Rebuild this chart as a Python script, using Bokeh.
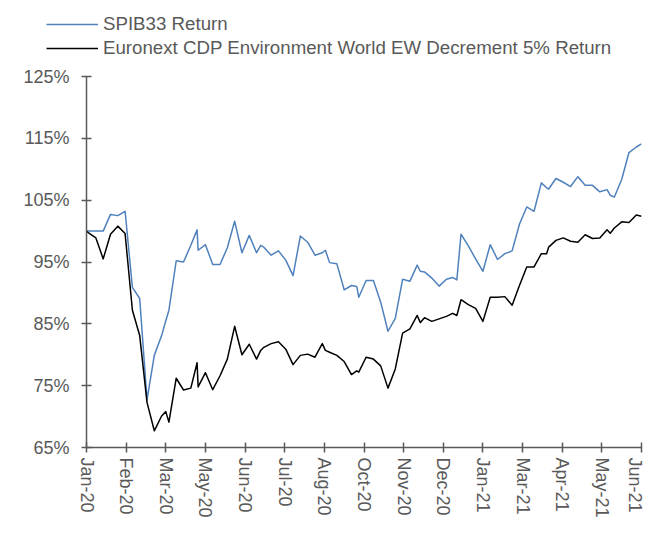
import pandas as pd
from bokeh.plotting import figure
from bokeh.layouts import column
from bokeh.models import (Range1d, FixedTicker, PrintfTickFormatter, Legend,
                          LegendItem, ColumnDataSource, DatetimeTickFormatter)
from bokeh.embed import file_html
from bokeh.resources import INLINE

# ---------------- data ----------------
dates = [
    "2020-01-15", "2020-01-17", "2020-01-24", "2020-01-31", "2020-02-07", "2020-02-14",
    "2020-02-21", "2020-02-28", "2020-03-06", "2020-03-13", "2020-03-20", "2020-03-27",
    "2020-03-31", "2020-04-03", "2020-04-10", "2020-04-17", "2020-04-24", "2020-04-30",
    "2020-05-01", "2020-05-08", "2020-05-15", "2020-05-22", "2020-05-29", "2020-06-05",
    "2020-06-12", "2020-06-19", "2020-06-26", "2020-06-30", "2020-07-03", "2020-07-10",
    "2020-07-17", "2020-07-24", "2020-07-31", "2020-08-07", "2020-08-14", "2020-08-21",
    "2020-08-28", "2020-08-31", "2020-09-04", "2020-09-11", "2020-09-18", "2020-09-25",
    "2020-09-30", "2020-10-02", "2020-10-09", "2020-10-16", "2020-10-23", "2020-10-30",
    "2020-11-06", "2020-11-13", "2020-11-20", "2020-11-27", "2020-11-30", "2020-12-04",
    "2020-12-11", "2020-12-18", "2020-12-25", "2020-12-31", "2021-01-04", "2021-01-08",
    "2021-01-15", "2021-01-22", "2021-01-29", "2021-02-05", "2021-02-12", "2021-02-19",
    "2021-02-26", "2021-03-05", "2021-03-12", "2021-03-19", "2021-03-26", "2021-03-31",
    "2021-04-02", "2021-04-09", "2021-04-16", "2021-04-23", "2021-04-30", "2021-05-07",
    "2021-05-14", "2021-05-21", "2021-05-28", "2021-05-31", "2021-06-04", "2021-06-11",
    "2021-06-18", "2021-06-25", "2021-06-30",
]

spib33_return = [
    100.0, 100.0, 100.0, 100.0, 102.7, 102.5, 103.2, 90.9, 89.1, 72.7,
    79.9, 83.1, 85.5, 87.2, 95.2, 95.0, 97.7, 100.2, 96.9, 97.8,
    94.6, 94.6, 97.3, 101.6, 96.5, 99.3, 96.5, 97.7, 97.4, 96.1,
    96.8, 95.3, 92.8, 99.2, 98.2, 96.1, 96.5, 96.9, 94.9, 94.7,
    90.5, 91.2, 91.05, 89.3, 92.0, 92.0, 88.5, 83.8, 85.9, 92.2,
    91.9, 94.5, 93.5, 93.4, 92.4, 91.1, 92.2, 92.5, 92.1, 99.5,
    97.6, 95.5, 93.5, 97.8, 95.4, 96.35, 96.8, 101.1, 103.9, 103.2,
    107.8, 107.0, 106.8, 108.5, 107.9, 107.2, 108.8, 107.4, 107.4, 106.35,
    106.7, 105.8, 105.5, 108.35, 112.7, 113.6, 114.1,
]

euronext_cdp_return = [
    100.0, 99.7, 98.9, 95.5, 99.5, 100.8, 99.6, 87.2, 83.1, 72.3,
    67.7, 70.1, 70.8, 69.1, 76.2, 74.3, 74.6, 78.7, 74.8, 77.1,
    74.35, 76.6, 79.3, 84.6, 80.0, 81.7, 79.3, 80.7, 81.2, 81.8,
    82.1, 80.9, 78.4, 79.9, 80.1, 79.6, 81.8, 80.7, 80.4, 79.9,
    78.9, 76.8, 77.4, 77.2, 79.6, 79.3, 78.2, 74.6, 77.7, 83.5,
    84.2, 86.35, 85.2, 86.0, 85.4, 85.8, 86.2, 86.7, 86.35, 88.9,
    88.1, 87.5, 85.4, 89.3, 89.3, 89.4, 88.0, 91.2, 94.2, 94.2,
    96.35, 96.35, 97.4, 98.5, 98.9, 98.35, 98.2, 99.4, 98.8, 98.9,
    100.2, 99.65, 100.5, 101.5, 101.4, 102.6, 102.4,
]

series_names = ["SPIB33 Return",
                "Euronext CDP Environment World EW Decrement 5% Return"]
series_colors = ["#4F81BD", "#000000"]

y_ticks = [65, 75, 85, 95, 105, 115, 125]

x_tick_dates = ["2020-01-15", "2020-02-22", "2020-03-31", "2020-05-08", "2020-06-15",
                "2020-07-23", "2020-08-30", "2020-10-07", "2020-11-14", "2020-12-22",
                "2021-01-29", "2021-03-08", "2021-04-15", "2021-05-23", "2021-06-30"]
x_tick_labels = ["Jan-20", "Feb-20", "Mar-20", "May-20", "Jun-20", "Jul-20", "Aug-20",
                 "Oct-20", "Nov-20", "Dec-20", "Jan-21", "Mar-21", "Apr-21", "May-21",
                 "Jun-21"]


def to_ms(s):
    return int((pd.Timestamp(s) - pd.Timestamp("1970-01-01")) // pd.Timedelta("1ms"))


x_ms = [to_ms(d) for d in dates]
tick_ms = [to_ms(d) for d in x_tick_dates]

source = ColumnDataSource(dict(x=x_ms, spib=spib33_return, eur=euronext_cdp_return))

FONT = "Liberation Sans"
TEXT_COLOR = "#595959"
AXIS_COLOR = "#595959"
W = 644

# ---------------- main chart ----------------
p = figure(width=W, height=469, x_axis_type="datetime",
           output_backend="svg", toolbar_location=None,
           min_border_left=86, min_border_right=3,
           min_border_top=16, min_border_bottom=82,
           x_range=Range1d(x_ms[0], x_ms[-1]), y_range=Range1d(65, 125))
p.outline_line_color = None
p.grid.visible = False
p.background_fill_color = "white"
p.border_fill_color = "white"
p.frame_align = False

p.line("x", "spib", source=source, line_color=series_colors[0], line_width=1.5,
       line_join="round")
p.line("x", "eur", source=source, line_color=series_colors[1], line_width=1.5,
       line_join="round")

# y axis
yax = p.yaxis[0]
yax.ticker = FixedTicker(ticks=y_ticks)
yax.formatter = PrintfTickFormatter(format="%d%%")
yax.axis_line_color = AXIS_COLOR
yax.axis_line_width = 1.5
yax.major_tick_line_color = AXIS_COLOR
yax.major_tick_line_width = 1.5
yax.major_tick_in = 5
yax.major_tick_out = 5
yax.minor_tick_line_color = None
yax.major_label_standoff = 12
yax.major_label_text_font = FONT
yax.major_label_text_font_size = "18px"
yax.major_label_text_color = TEXT_COLOR

# x axis
xax = p.xaxis[0]
xax.ticker = FixedTicker(ticks=tick_ms)
xax.formatter = DatetimeTickFormatter(days="%b-%y", months="%b-%y", years="%b-%y",
                                      hours="%b-%y", minutes="%b-%y", seconds="%b-%y",
                                      milliseconds="%b-%y", microseconds="%b-%y",
                                      minsec="%b-%y", hourmin="%b-%y")
xax.major_label_overrides = {t: lab for t, lab in zip(tick_ms, x_tick_labels)}
xax.major_label_orientation = "vertical"
xax.axis_line_color = AXIS_COLOR
xax.axis_line_width = 1.5
xax.major_tick_line_color = AXIS_COLOR
xax.major_tick_line_width = 1.5
xax.major_tick_in = 5
xax.major_tick_out = 5
xax.minor_tick_line_color = None
xax.major_label_standoff = 5
xax.major_label_text_font = FONT
xax.major_label_text_font_size = "18px"
xax.major_label_text_color = TEXT_COLOR

# ---------------- legend strip above the chart ----------------
lg = figure(width=W, height=60, output_backend="svg", toolbar_location=None,
            min_border=0, x_range=Range1d(0, 1), y_range=Range1d(0, 1))
lg.axis.visible = False
lg.grid.visible = False
lg.outline_line_color = None
lg.border_fill_color = "white"
lg.frame_align = False
# legend keys reuse the series (drawn outside this strip's visible range)
k1 = lg.line("x", "spib", source=source, line_color=series_colors[0], line_width=1.5)
k2 = lg.line("x", "eur", source=source, line_color=series_colors[1], line_width=1.5)

legend = Legend(items=[LegendItem(label=series_names[0], renderers=[k1]),
                       LegendItem(label=series_names[1], renderers=[k2])],
                location=(46, 1), orientation="vertical",
                glyph_width=52, glyph_height=20, label_height=20,
                spacing=2, padding=0, margin=0, label_standoff=5,
                border_line_color=None, background_fill_alpha=0,
                label_text_font=FONT, label_text_font_size="18.7px",
                label_text_color=TEXT_COLOR)
lg.add_layout(legend, "center")

layout = column(lg, p, spacing=0)
open("out.html", "w").write(file_html(layout, INLINE))
